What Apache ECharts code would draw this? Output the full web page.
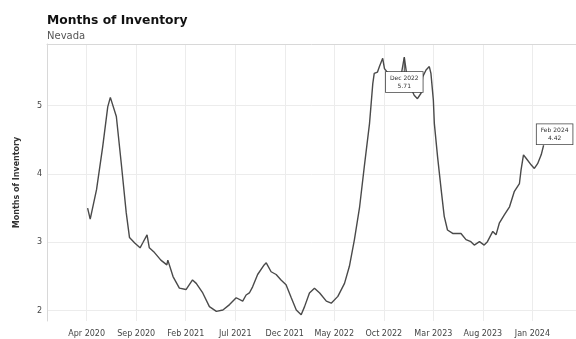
<!DOCTYPE html>
<html><head><meta charset="utf-8">
<script src="https://cdn.jsdelivr.net/npm/echarts@6.0.0/dist/echarts.min.js"></script>
<style>html,body{margin:0;padding:0;background:#fff}#c{width:576px;height:339px}</style>
</head><body><div id="c"></div>
<script>
// ---- data ----
const dates = [
"2020-04-04","2020-04-12","2020-05-01","2020-05-20","2020-06-05","2020-06-13","2020-06-19","2020-07-01",
"2020-07-16","2020-08-01","2020-08-11","2020-08-27","2020-09-13","2020-09-21","2020-10-04","2020-10-11",
"2020-10-27","2020-11-16","2020-12-04","2020-12-07","2020-12-23","2021-01-12","2021-02-02","2021-02-22",
"2021-03-03","2021-03-23","2021-04-13","2021-05-04","2021-05-24","2021-06-14","2021-07-04","2021-07-24",
"2021-08-04","2021-08-14","2021-08-24","2021-09-09","2021-09-29","2021-10-05","2021-10-20","2021-11-05",
"2021-11-20","2021-12-05","2021-12-21","2022-01-06","2022-01-21","2022-02-01","2022-02-16","2022-03-01",
"2022-03-17","2022-04-07","2022-04-22","2022-05-12","2022-06-02","2022-06-17","2022-07-02","2022-07-18",
"2022-08-02","2022-08-18","2022-08-28","2022-09-02","2022-09-12","2022-09-18","2022-09-28","2022-10-03",
"2022-10-18","2022-11-02","2022-11-24","2022-12-03","2022-12-12","2022-12-24","2023-01-03","2023-01-13",
"2023-01-24","2023-01-29","2023-02-09","2023-02-19","2023-02-24","2023-03-01","2023-03-04","2023-03-14",
"2023-03-25","2023-04-04","2023-04-14","2023-04-30","2023-05-25","2023-06-10","2023-06-25","2023-07-05",
"2023-07-21","2023-08-05","2023-08-15","2023-09-01","2023-09-11","2023-09-21","2023-10-06","2023-10-22",
"2023-11-06","2023-11-22","2023-11-27","2023-12-04","2023-12-12","2023-12-28","2024-01-07","2024-01-17",
"2024-01-28","2024-02-05"
];
const values = [
3.50,3.34,3.77,4.40,4.98,5.12,5.12,4.84,
4.16,3.43,3.07,2.99,2.92,2.99,3.11,2.92,
2.85,2.74,2.67,2.74,2.50,2.33,2.31,2.45,
2.40,2.26,2.06,1.99,2.01,2.09,2.19,2.14,
2.23,2.26,2.35,2.53,2.67,2.70,2.57,2.53,
2.45,2.38,2.19,2.01,1.94,2.06,2.26,2.33,
2.26,2.14,2.11,2.21,2.40,2.65,3.04,3.52,
4.11,4.74,5.32,5.47,5.49,5.57,5.69,5.54,
5.45,5.40,5.45,5.71,5.40,5.25,5.15,5.10,
5.18,5.42,5.52,5.57,5.47,5.08,4.74,4.25,
3.77,3.38,3.18,3.13,3.13,3.04,3.01,2.96,
3.01,2.96,3.01,3.16,3.11,3.28,3.40,3.52,
3.74,3.86,4.06,4.28,4.23,4.13,4.08,4.15,
4.28,4.42
];
const tickLabels = ["Apr 2020","Sep 2020","Feb 2021","Jul 2021","Dec 2021","May 2022","Oct 2022","Mar 2023","Aug 2023","Jan 2024"];
const yTicks = [2,3,4,5];
const peakNote = ["Dec 2022","5.71"];
const lastNote = ["Feb 2024","4.42"];

// ---- helpers ----
const MON = ["Jan","Feb","Mar","Apr","May","Jun","Jul","Aug","Sep","Oct","Nov","Dec"];
function pos(y, m, d) { return (y - 2019) * 12 + (m - 12) + (d - 1) / 30.44; }
function datePos(s) { const p = s.split("-").map(Number); return pos(p[0], p[1], p[2]); }
function labelPos(s) { const p = s.split(" "); return pos(+p[1], MON.indexOf(p[0]) + 1, 1); }
const tickVals = tickLabels.map(labelPos);
const seriesData = dates.map((d, i) => [datePos(d), values[i]]);
let peakIdx = 0; values.forEach((v, i) => { if (v > values[peakIdx]) peakIdx = i; });
const lastIdx = values.length - 1;

const boxLabel = {
  show: true, color: '#333', fontSize: 6, lineHeight: 8,
  backgroundColor: '#fff', borderColor: '#444', borderWidth: 0.8, padding: [2, 4],
  fontFamily: 'DejaVu Sans', align: 'center'
};

const chart = echarts.init(document.getElementById('c'), null, {renderer: 'canvas'});
chart.setOption({
  animation: false,
  backgroundColor: '#fff',
  title: {
    text: 'Months of Inventory', subtext: 'Nevada', left: 42, top: 10, itemGap: 4,
    textStyle: {fontFamily: 'DejaVu Sans', fontSize: 12.3, fontWeight: 'bold', color: '#111'},
    subtextStyle: {fontFamily: 'DejaVu Sans', fontSize: 10, color: '#555'}
  },
  grid: {left: 47, right: 0, top: 44, bottom: 18},
  xAxis: [{
    type: 'value', min: 0, max: 53.4,
    axisLine: {show: false}, axisTick: {show: false, customValues: tickVals},
    splitLine: {show: true, lineStyle: {color: '#ececec', width: 1}},
    axisLabel: {customValues: tickVals, fontSize: 8, color: '#444', fontFamily: 'DejaVu Sans', margin: 9,
      formatter: v => { let best = 0; tickVals.forEach((t, i) => { if (Math.abs(t - v) < Math.abs(tickVals[best] - v)) best = i; }); return tickLabels[best]; }}
  }, {
    type: 'value', position: 'top', min: 0, max: 53.4,
    axisLine: {show: true, lineStyle: {color: '#d8d8d8'}}, axisTick: {show: false}, axisLabel: {show: false}, splitLine: {show: false}
  }],
  yAxis: {
    type: 'value', min: 1.85, max: 5.9,
    name: 'Months of Inventory', nameLocation: 'middle', nameGap: 26,
    nameTextStyle: {fontFamily: 'DejaVu Sans', fontSize: 8, fontWeight: 'bold', color: '#333'},
    axisLine: {show: true, lineStyle: {color: '#d8d8d8'}},
    axisTick: {show: false, customValues: yTicks},
    splitLine: {show: true, lineStyle: {color: '#ececec'}},
    axisLabel: {customValues: yTicks, fontSize: 8, color: '#444', fontFamily: 'DejaVu Sans', margin: 5}
  },
  series: [{
    type: 'line', data: seriesData, showSymbol: false, symbol: 'none',
    lineStyle: {color: '#4a4a4a', width: 1.4},
    markPoint: {
      silent: true,
      data: [
        {coord: seriesData[peakIdx], symbol: 'rect', symbolSize: [1, 15], symbolOffset: [0, 7.5],
         itemStyle: {color: '#444'},
         label: Object.assign({}, boxLabel, {position: 'bottom', distance: 0, formatter: peakNote.join('\n')})},
        {coord: seriesData[lastIdx], symbol: 'rect', symbolSize: 0,
         label: Object.assign({}, boxLabel, {position: 'top', distance: 1, offset: [11, 0], formatter: lastNote.join('\n')})}
      ]
    }
  }]
});
</script></body></html>
